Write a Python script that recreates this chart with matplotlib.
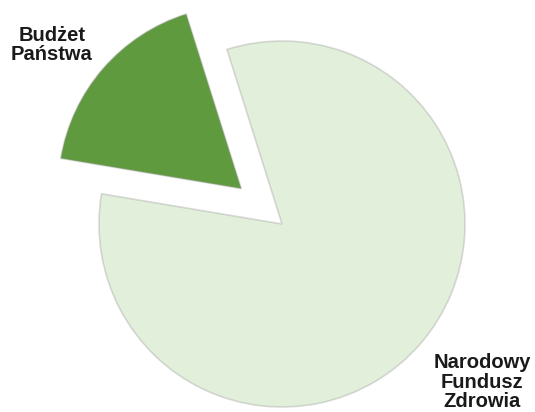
import matplotlib.pyplot as plt

# 数据
labels = ['Budżet\nPaństwa', 'Narodowy\nFundusz\nZdrowia']
shares = [17.5, 82.5]
colors = ['#5f9a3e', '#e2efda']
explode = [0.295, 0]

fig = plt.figure(figsize=(5.35, 4.12), dpi=100)
ax = fig.add_axes([0, 0, 1, 1])

ax.pie(shares, colors=colors, explode=explode, startangle=107.5,
       counterclock=True, radius=1.0,
       wedgeprops=dict(edgecolor=(0.6, 0.6, 0.6, 0.35), linewidth=1.2))

# 像素坐标 -> 数据坐标 (中心 282,224 半径 183)
cx, cy, r = 282.0, 224.0, 183.0
ax.set_xlim(-cx / r, (535 - cx) / r)
ax.set_ylim(-(412 - cy) / r, cy / r)
ax.set_aspect('auto')
ax.axis('off')

# 标签
fig.text(52 / 535, 1 - 45 / 412, labels[0], ha='center', va='center',
         fontsize=14.5, fontweight='bold', family='Liberation Sans',
         linespacing=1.05, color='#1a1a1a')
fig.text(482 / 535, 1 - 382 / 412, labels[1], ha='center', va='center',
         fontsize=14.5, fontweight='bold', family='Liberation Sans',
         linespacing=1.05, color='#1a1a1a')

fig.savefig('out.png', dpi=100)
